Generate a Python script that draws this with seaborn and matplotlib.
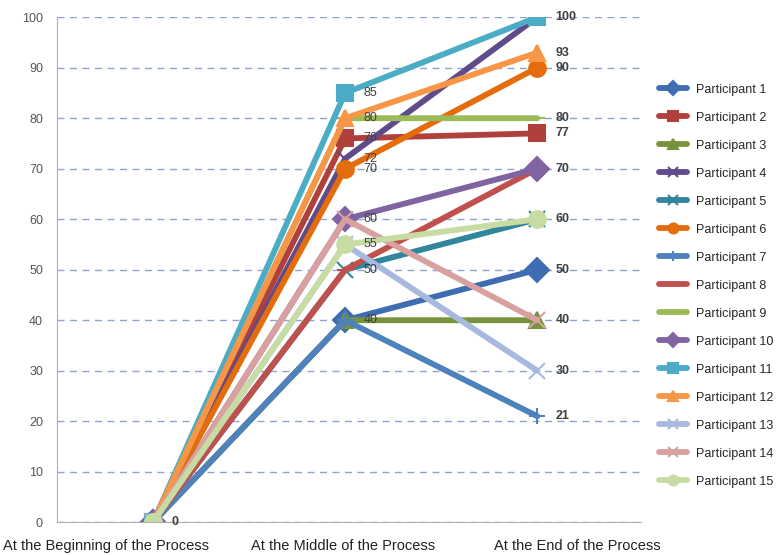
# Participant scores across the process - line chart

import pandas as pd
import matplotlib
matplotlib.use("Agg")
import matplotlib.pyplot as plt
import matplotlib.transforms as mtransforms
import seaborn as sns


# ============================================
# Data
# ============================================

stages = [
    "At the Beginning of the Process",
    "At the Middle of the Process",
    "At the End of the Process"
]

participants = ["Participant %d" % i for i in range(1, 16)]

beginning = [0, 0, 0, 0, 0, 0, 0, 0, 0, 0, 0, 0, 0, 0, 0]
middle = [40, 76, 40, 72, 50, 70, 40, 50, 80, 60, 85, 80, 55, 60, 55]
end = [50, 77, 40, 100, 60, 90, 21, 70, 80, 70, 100, 93, 30, 40, 60]

colors = [
    "#3F6DB3", "#B0403C", "#77933C", "#5F4A8B", "#31859C",
    "#E46C0A", "#4F81BD", "#C0504D", "#9BBB59", "#8064A2",
    "#4BACC6", "#F79646", "#A7B9DC", "#D9A0A0", "#C6DCA3"
]

markers = ["D", "s", "^", "x", "x", "o", "+", "_", "_",
           "D", "s", "^", "x", "x", "o"]


# long table for seaborn
rows = []
for i, p in enumerate(participants):
    for s, vals in enumerate([beginning, middle, end]):
        rows.append({"Participant": p, "Stage": s, "Score": vals[i]})
df = pd.DataFrame(rows)


# ============================================
# Plot
# ============================================

sns.set_style("white")
plt.rcParams["font.family"] = ["Liberation Sans", "DejaVu Sans"]

fig = plt.figure(figsize=(7.79, 5.55), dpi=100)
ax = fig.add_axes([0.073, 0.059, 0.75, 0.91])

for i, p in enumerate(participants):
    sns.lineplot(
        data=df[df["Participant"] == p],
        x="Stage",
        y="Score",
        color=colors[i],
        marker=markers[i],
        markersize=12,
        markeredgewidth=1.5,
        markeredgecolor=colors[i],
        linewidth=4.2,
        sort=False,
        label=p,
        ax=ax
    )

ax.set_xlim(-0.5, 2.54)
ax.set_ylim(0, 100)
ax.set_yticks(range(0, 101, 10))
ax.set_xticks(range(len(stages)))
ax.set_xticklabels(stages, fontsize=10.5, color="#222222")
ax.tick_params(axis="y", labelsize=9, colors="#555555", length=0, pad=10)
ax.tick_params(axis="x", length=0, pad=12)
ax.set_xlabel("")
ax.set_ylabel("")

# category labels sit a little off their ticks, as in the original
for lab, dx in zip(ax.get_xticklabels(), [-47, -2, 40]):
    lab.set_transform(lab.get_transform() + mtransforms.ScaledTranslation(dx / 100, 0, fig.dpi_scale_trans))

ax.grid(axis="y", linestyle=(0, (5, 4)), color="#8FA3CF", linewidth=1)
ax.set_axisbelow(True)
for side in ["top", "right"]:
    ax.spines[side].set_visible(False)
for side in ["left", "bottom"]:
    ax.spines[side].set_color("#B0B0B0")


# data labels (one per distinct value at each stage)
for s, vals in enumerate([beginning, middle, end]):
    for v in sorted(set(vals)):
        ax.annotate(
            str(v),
            xy=(s, v),
            xytext=(13, 0),
            textcoords="offset points",
            va="center",
            ha="left",
            fontsize=9,
            fontweight="bold" if s != 1 else "normal",
            color="#404040"
        )


# legend on the right
handles, labels = ax.get_legend_handles_labels()
ax.get_legend().remove()
fig.legend(
    handles,
    labels,
    loc="upper left",
    bbox_to_anchor=(0.839, 0.858),
    frameon=False,
    fontsize=9,
    markerscale=0.6,
    handlelength=2.3,
    handletextpad=0.7,
    labelspacing=1.28,
    borderaxespad=0
)

plt.savefig("out.png", dpi=100)
